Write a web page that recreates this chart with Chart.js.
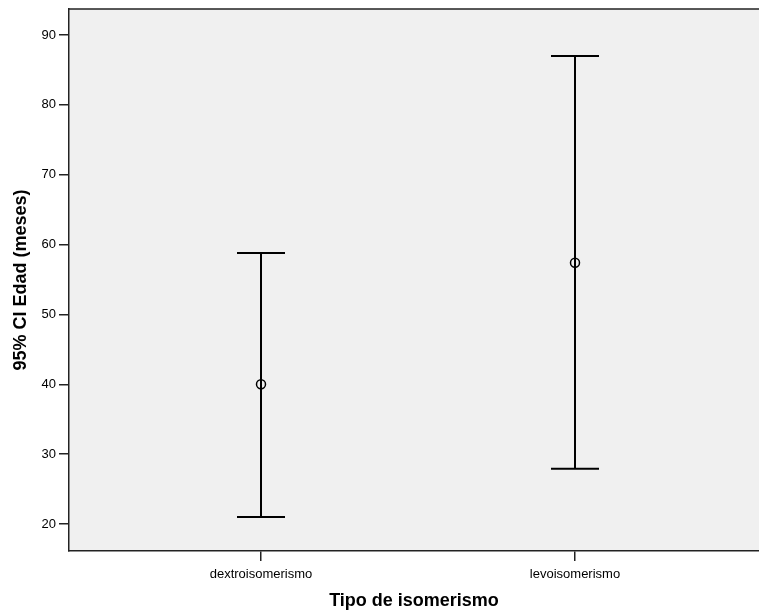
<!DOCTYPE html>
<html>
<head>
<meta charset="utf-8">
<script src="https://cdn.jsdelivr.net/npm/chart.js@4/dist/chart.umd.min.js"></script>
<style>
  html, body { margin: 0; padding: 0; background: #fff; overflow: hidden; }
  #wrap { width: 759px; height: 614px; }
  canvas { display: block; }
</style>
</head>
<body>
<div id="wrap"><canvas id="c" width="759" height="614"></canvas></div>
<script>
// Age (months) by isomerism type: mean with 95% confidence interval
const categories = ['dextroisomerismo', 'levoisomerismo'];
const means = [40.0, 57.4];
const lowerCI = [21.0, 27.9];
const upperCI = [58.8, 87.0];
const yTicks = [20, 30, 40, 50, 60, 70, 80, 90];

const FONT = "'Liberation Sans', Arial, Helvetica, sans-serif";

// Vertical interval lines with end caps, drawn through the chart scales
const errorBars = {
  id: 'errorBars',
  beforeDatasetsDraw(chart) {
    const { ctx, scales: { x, y } } = chart;
    const capHalf = 24;
    ctx.save();
    ctx.strokeStyle = '#000';
    ctx.lineWidth = 2;
    categories.forEach((_, i) => {
      const px = x.getPixelForValue(i + 1);
      const yLo = y.getPixelForValue(lowerCI[i]);
      const yHi = y.getPixelForValue(upperCI[i]);
      ctx.beginPath();
      ctx.moveTo(px, yLo); ctx.lineTo(px, yHi);
      ctx.moveTo(px - capHalf, yHi); ctx.lineTo(px + capHalf, yHi);
      ctx.moveTo(px - capHalf, yLo); ctx.lineTo(px + capHalf, yLo);
      ctx.stroke();
    });
    ctx.restore();
  }
};

// Gray plot background and top frame line
const plotFrame = {
  id: 'plotFrame',
  beforeDraw(chart) {
    const { ctx, chartArea: a } = chart;
    ctx.save();
    ctx.fillStyle = '#f0f0f0';
    ctx.fillRect(a.left, a.top, a.right - a.left, a.bottom - a.top);
    ctx.restore();
  },
  afterDraw(chart) {
    const { ctx, chartArea: a } = chart;
    ctx.save();
    ctx.strokeStyle = '#222';
    ctx.lineWidth = 1.5;
    ctx.beginPath();
    ctx.moveTo(a.left, a.top);
    ctx.lineTo(a.right, a.top);
    ctx.stroke();
    ctx.restore();
  }
};

new Chart(document.getElementById('c'), {
  type: 'scatter',
  data: {
    datasets: [{
      data: means.map((m, i) => ({ x: i + 1, y: m })),
      pointStyle: 'circle',
      pointRadius: 4.5,
      pointHoverRadius: 4.5,
      borderColor: '#000',
      borderWidth: 1.5,
      backgroundColor: 'rgba(0,0,0,0)'
    }]
  },
  options: {
    responsive: false,
    animation: false,
    events: [],
    layout: { autoPadding: false, padding: { top: 9, right: 0, bottom: 0, left: 0 } },
    plugins: { legend: { display: false }, tooltip: { enabled: false } },
    scales: {
      x: {
        type: 'linear',
        min: 0.3885,
        max: 2.586,
        afterBuildTicks(scale) { scale.ticks = categories.map((_, i) => ({ value: i + 1 })); },
        afterFit(scale) {
          scale.height = 63;
          scale.paddingLeft = 0;
          scale.paddingRight = 0;
        },
        ticks: {
          callback: (v) => categories[v - 1] ?? '',
          color: '#000',
          font: { family: FONT, size: 13 },
          padding: 6,
          maxRotation: 0,
          autoSkip: false
        },
        grid: { drawOnChartArea: false, drawTicks: true, tickLength: 10, color: '#222', lineWidth: 1.5 },
        border: { display: true, color: '#222', width: 1.5 },
        title: {
          display: true,
          text: 'Tipo de isomerismo',
          color: '#000',
          font: { family: FONT, size: 18, weight: 'bold' },
          padding: { top: 0, bottom: 2 }
        }
      },
      y: {
        type: 'linear',
        min: 16.14,
        max: 93.71,
        afterBuildTicks(scale) { scale.ticks = yTicks.map(v => ({ value: v })); },
        afterFit(scale) {
          scale.width = 69;
          scale.paddingTop = 0;
          scale.paddingBottom = 0;
        },
        ticks: {
          color: '#000',
          font: { family: FONT, size: 13 },
          padding: 3
        },
        grid: { drawOnChartArea: false, drawTicks: true, tickLength: 10, color: '#222', lineWidth: 1.5 },
        border: { display: true, color: '#222', width: 1.5 },
        title: {
          display: true,
          text: '95% CI Edad (meses)',
          color: '#000',
          font: { family: FONT, size: 18, weight: 'bold' },
          padding: { top: 10, bottom: 0 }
        }
      }
    }
  },
  plugins: [plotFrame, errorBars]
});
</script>
</body>
</html>
